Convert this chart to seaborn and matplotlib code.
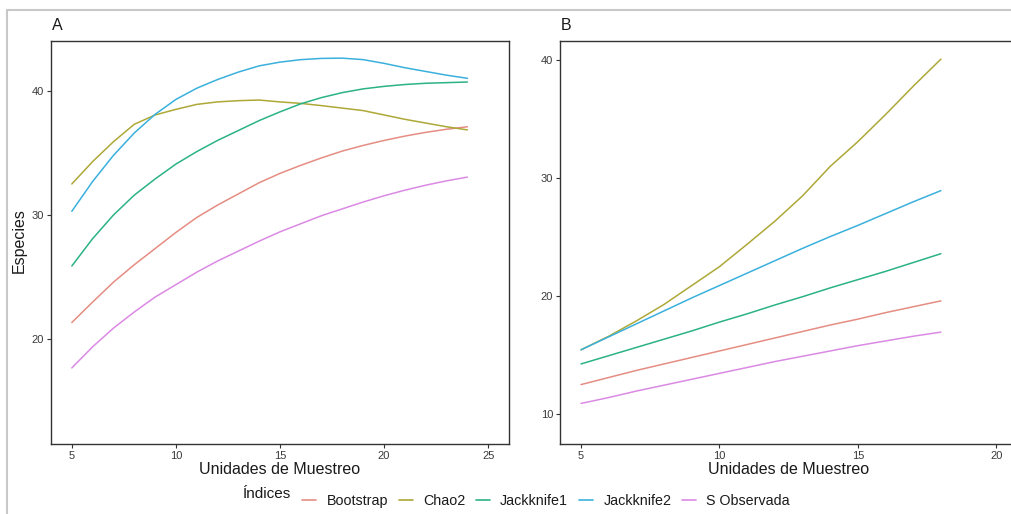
import numpy as np
import pandas as pd
import matplotlib
matplotlib.use("Agg")
import matplotlib.pyplot as plt
from matplotlib.patches import Rectangle
from matplotlib.lines import Line2D
import seaborn as sns

# Estimator names (legend order)
indices = ["Bootstrap", "Chao2", "Jackknife1", "Jackknife2", "S Observada"]
colores = ["#E58D82", "#ADA837", "#2BB287", "#3AB0DC", "#DB8AE4"]

# Panel A: sampling units 5..24
unidades_a = list(range(5, 25))
bootstrap_a = [21.35, 23.0, 24.6, 26.0, 27.3, 28.6, 29.8, 30.8, 31.7, 32.6,
               33.35, 34.0, 34.6, 35.15, 35.6, 36.0, 36.35, 36.65, 36.9, 37.1]
chao2_a = [32.5, 34.3, 35.9, 37.3, 38.05, 38.5, 38.9, 39.1, 39.2, 39.25,
           39.1, 38.98, 38.8, 38.6, 38.4, 38.05, 37.7, 37.4, 37.1, 36.85]
jack1_a = [25.9, 28.1, 30.0, 31.6, 32.9, 34.1, 35.1, 36.0, 36.8, 37.6,
           38.3, 38.95, 39.45, 39.85, 40.15, 40.35, 40.5, 40.6, 40.65, 40.7]
jack2_a = [30.3, 32.7, 34.8, 36.6, 38.1, 39.3, 40.2, 40.9, 41.5, 42.0,
           42.3, 42.5, 42.6, 42.62, 42.5, 42.2, 41.85, 41.55, 41.25, 41.0]
sobs_a = [17.7, 19.4, 20.9, 22.2, 23.4, 24.4, 25.4, 26.3, 27.1, 27.9,
          28.65, 29.3, 29.95, 30.5, 31.05, 31.55, 32.0, 32.4, 32.75, 33.05]

# Panel B: sampling units 5..18
unidades_b = list(range(5, 19))
bootstrap_b = [12.5, 13.1, 13.7, 14.25, 14.8, 15.35, 15.9, 16.45, 17.0, 17.55,
               18.05, 18.6, 19.1, 19.6]
chao2_b = [15.45, 16.6, 17.9, 19.3, 20.9, 22.5, 24.4, 26.35, 28.5, 31.0,
           33.1, 35.4, 37.8, 40.1]
jack1_b = [14.25, 14.95, 15.65, 16.35, 17.05, 17.8, 18.5, 19.25, 19.95, 20.7,
           21.4, 22.1, 22.85, 23.6]
jack2_b = [15.45, 16.55, 17.65, 18.75, 19.85, 20.9, 21.95, 23.0, 24.05, 25.05,
           26.0, 27.0, 28.0, 28.95]
sobs_b = [10.9, 11.4, 11.95, 12.45, 12.95, 13.45, 13.95, 14.45, 14.9, 15.35,
          15.8, 16.2, 16.6, 16.95]

x_ticks_a = [5, 10, 15, 20, 25]
y_ticks_a = [20, 30, 40]
x_ticks_b = [5, 10, 15, 20]
y_ticks_b = [10, 20, 30, 40]


def long_form(x, series):
    rows = []
    for name, vals in zip(indices, series):
        for xi, yi in zip(x, vals):
            rows.append({"Unidades": xi, "Especies": yi, "Índices": name})
    return pd.DataFrame(rows)


df_a = long_form(unidades_a, [bootstrap_a, chao2_a, jack1_a, jack2_a, sobs_a])
df_b = long_form(unidades_b, [bootstrap_b, chao2_b, jack1_b, jack2_b, sobs_b])

sns.set_theme(style="white")
plt.rcParams["font.family"] = ["Liberation Sans", "DejaVu Sans"]

W, H = 1011, 514
fig = plt.figure(figsize=(W / 100, H / 100), dpi=100)

# light frame around the whole composition
fig.patches.append(Rectangle((7 / W, -0.05), 1.1, 1 - 10 / H + 0.05,
                             transform=fig.transFigure, fill=False,
                             edgecolor="#C8C8C8", linewidth=1.5, zorder=0))

ax_a = fig.add_axes([51 / W, 1 - 444 / H, 458 / W, 403 / H])
ax_b = fig.add_axes([560 / W, 1 - 444 / H, 457 / W, 403 / H])

palette = dict(zip(indices, colores))
for ax, df in [(ax_a, df_a), (ax_b, df_b)]:
    sns.lineplot(data=df, x="Unidades", y="Especies", hue="Índices",
                 hue_order=indices, palette=palette, linewidth=1.1,
                 legend=False, ax=ax)
    for sp in ax.spines.values():
        sp.set_color("#333333")
        sp.set_linewidth(1.0)
    ax.tick_params(axis="both", which="both", direction="out", length=3,
                   width=0.8, color="#333333", labelsize=8,
                   labelcolor="#3A3A3A", pad=2, bottom=True, left=True)
    ax.set_xlabel("Unidades de Muestreo", fontsize=11.5, color="#1A1A1A",
                  labelpad=1)
    ax.set_ylabel("")

ax_a.set_xlim(4, 26)
ax_a.set_ylim(11.58, 44.0)
ax_a.set_xticks(x_ticks_a)
ax_a.set_yticks(y_ticks_a)

ax_b.set_xlim(4.24, 20.75)
ax_b.set_ylim(7.46, 41.64)
ax_b.set_xticks(x_ticks_b)
ax_b.set_yticks(y_ticks_b)

fig.text(19 / W, 1 - 241 / H, "Especies", fontsize=11.5, color="#1A1A1A",
         rotation=90, ha="center", va="center")
fig.text(52 / W, 1 - 26 / H, "A", fontsize=11.5, color="#1A1A1A", va="center")
fig.text(561 / W, 1 - 26 / H, "B", fontsize=11.5, color="#1A1A1A", va="center")

# legend along the bottom
handles = [Line2D([0], [0], color=c, lw=1.2) for c in colores]
fig.legend(handles, indices, loc="center", ncol=5,
           bbox_to_anchor=(546 / W, 1 - 501 / H), frameon=False,
           fontsize=10.3, handlelength=1.0, handletextpad=0.7,
           columnspacing=0.75, labelcolor="#1A1A1A")
fig.text(243 / W, 1 - 494 / H, "Índices", fontsize=11, color="#1A1A1A",
         va="center", ha="left")

fig.savefig("out.png", dpi=100)
